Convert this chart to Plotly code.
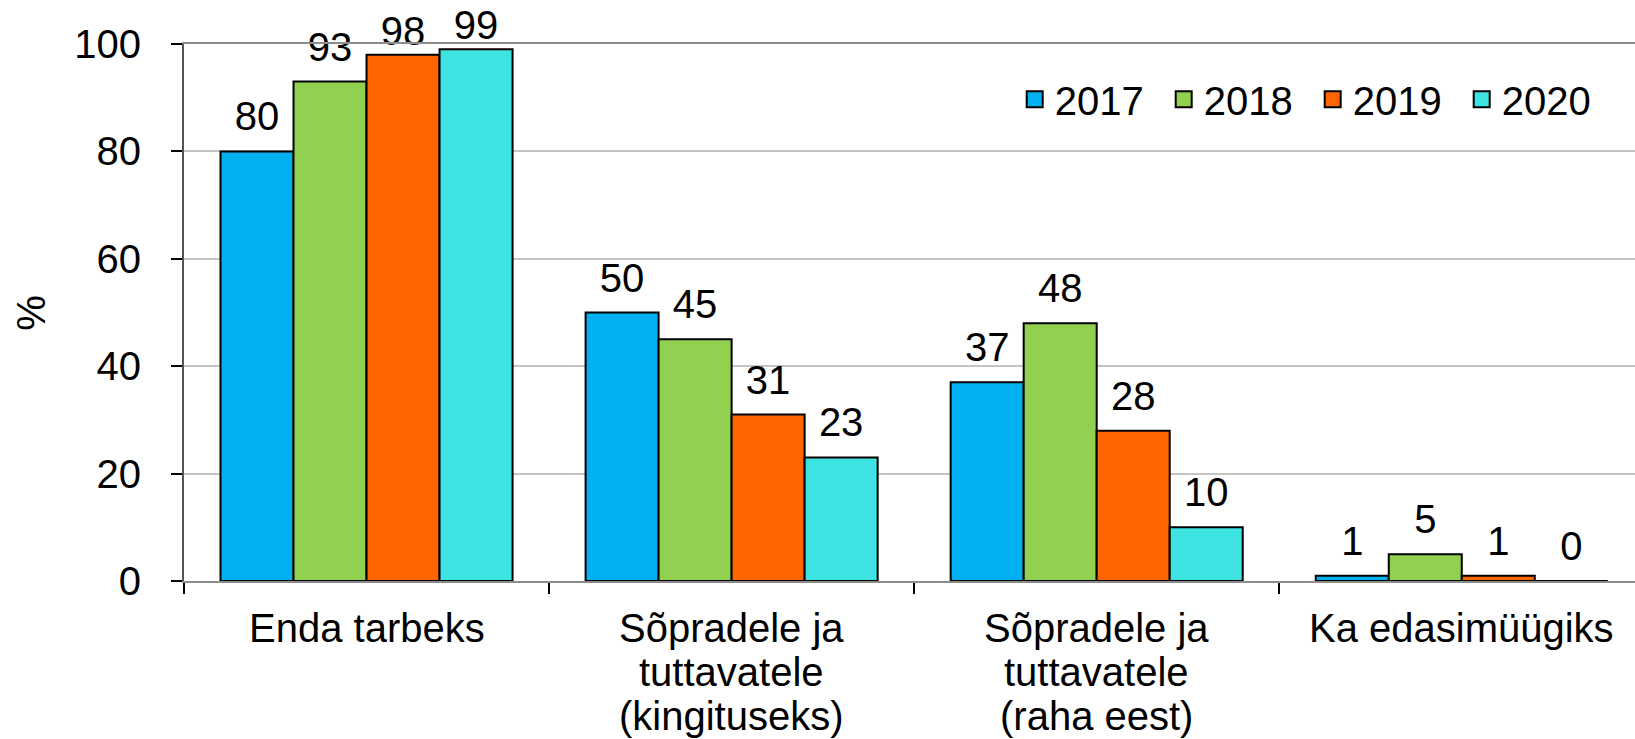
import plotly.graph_objects as go

# ---- data ----
category_lines = [
    ["Enda tarbeks"],
    ["Sõpradele ja", "tuttavatele", "(kingituseks)"],
    ["Sõpradele ja", "tuttavatele", "(raha eest)"],
    ["Ka edasimüügiks"],
]
categories = [" ".join(l) for l in category_lines]
years = ["2017", "2018", "2019", "2020"]
v2017 = [80, 50, 37, 1]
v2018 = [93, 45, 48, 5]
v2019 = [98, 31, 28, 1]
v2020 = [99, 23, 10, 0]
series = [v2017, v2018, v2019, v2020]
colors = ["#00B0F0", "#92D050", "#FF6600", "#3EE4E2"]
y_ticks = [0, 20, 40, 60, 80, 100]

FONT = "Liberation Sans, Arial, sans-serif"
FS = 40

fig = go.Figure()
for name, vals, col in zip(years, series, colors):
    fig.add_trace(go.Bar(
        x=categories, y=vals, name=name, offsetgroup=name, legendgroup=name,
        marker=dict(color=col, line=dict(color="black", width=2)),
        showlegend=False,
    ))
# value labels, grouped like the bars; labels next to the top of the
# value axis are pulled closer to their bar (as in the original chart)
for name, vals in zip(years, series):
    gap_sizes = [0 if v >= 98 else 16 for v in vals]
    fig.add_trace(go.Scatter(
        x=categories, y=vals, name=name, offsetgroup=name, legendgroup=name,
        mode="markers+text", text=[str(v) for v in vals], textposition="top center",
        marker=dict(size=gap_sizes, opacity=0),
        textfont=dict(family=FONT, size=FS, color="black"),
        cliponaxis=False, showlegend=False, hoverinfo="skip",
    ))
# legend entries with larger square keys
for name, col in zip(years, colors):
    fig.add_trace(go.Scatter(
        x=[None], y=[None], name=name, legendgroup=name, mode="markers",
        marker=dict(symbol="square", size=21, color=col, line=dict(color="black", width=2)),
        showlegend=True, hoverinfo="skip",
    ))

# category labels, one annotation per line (tight line spacing)
line_step = 43.8
first_shift = -47.3
for cat, lines in zip(categories, category_lines):
    for i, ln in enumerate(lines):
        fig.add_annotation(
            x=cat, xref="x", y=0, yref="paper",
            text=ln, showarrow=False,
            xanchor="center", yanchor="middle",
            yshift=first_shift - i * line_step,
            font=dict(family=FONT, size=FS, color="black"),
        )

fig.add_annotation(
    x=-0.106, xref="paper", y=0.5, yref="paper",
    text="%", textangle=-90, showarrow=False,
    xanchor="center", yanchor="middle",
    font=dict(family=FONT, size=FS, color="black"),
)

fig.update_layout(
    width=1635, height=739,
    margin=dict(l=184.3, r=0, t=43.7, b=158.3, autoexpand=False),
    paper_bgcolor="white", plot_bgcolor="white",
    barmode="group", bargap=0.2, bargroupgap=0,
    scattermode="group", scattergap=0.2,
    font=dict(family=FONT, size=FS, color="black"),
    showlegend=True,
    legend=dict(
        orientation="h", x=0.5725, xanchor="left", y=0.897, yanchor="middle",
        font=dict(family=FONT, size=FS, color="black"),
        bgcolor="rgba(0,0,0,0)", borderwidth=0, entrywidth=104,
        traceorder="normal", itemclick=False, itemsizing="trace",
    ),
)

fig.update_xaxes(
    type="category", range=[-0.5, 3.4745],
    showline=True, linecolor="#8C8C8C", linewidth=2, mirror=True,
    ticks="outside", tickson="boundaries", ticklen=11, tickwidth=2, tickcolor="black",
    showticklabels=False, showgrid=False, zeroline=False,
)
fig.update_yaxes(
    range=[0, 100], tickvals=y_ticks,
    showline=True, linecolor="#555555", linewidth=2,
    ticks="outside", ticklen=11, tickwidth=2, tickcolor="black",
    ticklabelstandoff=22,
    tickfont=dict(family=FONT, size=FS, color="black"),
    showgrid=True, gridcolor="#C4C4C4", gridwidth=2, zeroline=False,
)

fig.write_html(
    "out.html",
    config={"displayModeBar": False},
    post_script="document.body.style.margin='0';document.body.style.overflow='hidden';",
)
